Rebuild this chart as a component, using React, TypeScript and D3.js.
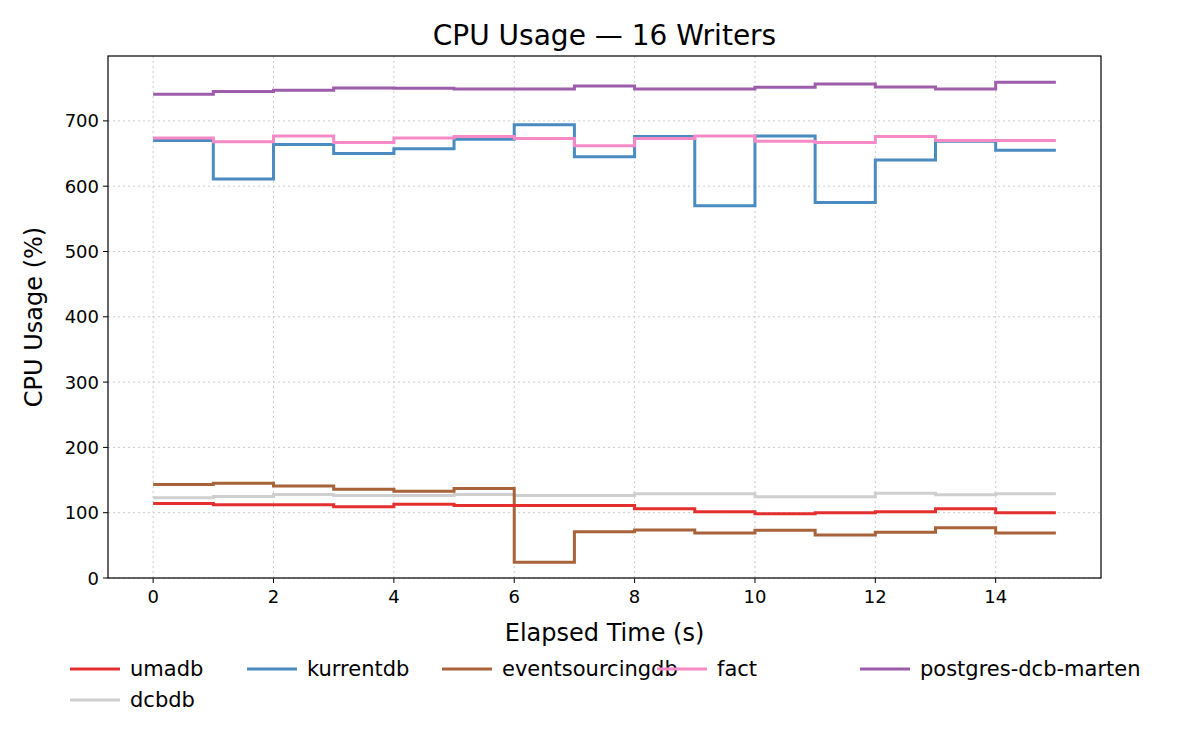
import React from "react";
import * as d3 from "d3";

const times = [0,1,2,3,4,5,6,7,8,9,10,11,12,13,14,15];
const umadb = [114,112,112,109,113,111,111,111,106,101.5,98.5,100,101.5,106,100,100];
const kurrentdb = [670,611,664,650,657.5,672,694,645,676,570,677,575,640,669,655,655];
const eventsourcingdb = [143,145,141,136,133,137,24,71,73.5,69,73,66,70,77,69,69];
const fact = [674,668,677,667,674,676,673,662,673,677,669,667,676,670,670,670];
const postgres = [741,745,747,750.5,750,749,749,753.5,749,749,751.5,756.6,752,749,759,759];
const dcbdb = [123,125,128,126.5,126.5,128,126.5,126.5,129,129,124.5,124.5,129.6,127.5,129,129];
const xTicks = [0,2,4,6,8,10,12,14];
const yTicks = [0,100,200,300,400,500,600,700];

const series = [
  { name: "dcbdb", values: dcbdb, color: "#cfcfcf" },
  { name: "eventsourcingdb", values: eventsourcingdb, color: "#a9633a" },
  { name: "umadb", values: umadb, color: "#e3302f" },
  { name: "kurrentdb", values: kurrentdb, color: "#4a8bc2" },
  { name: "fact", values: fact, color: "#f58ac6" },
  { name: "postgres-dcb-marten", values: postgres, color: "#9d5dab" },
];
const legend = [
  { name: "umadb", color: "#e3302f", x: 70, y: 669 },
  { name: "kurrentdb", color: "#4a8bc2", x: 247, y: 669 },
  { name: "eventsourcingdb", color: "#a9633a", x: 442, y: 669 },
  { name: "fact", color: "#f58ac6", x: 657, y: 669 },
  { name: "postgres-dcb-marten", color: "#9d5dab", x: 860, y: 669 },
  { name: "dcbdb", color: "#cfcfcf", x: 70, y: 700 },
];

export default function App() {
  const L = 108, R = 1101, T = 56, B = 578;
  const x = d3.scaleLinear().domain([-0.75, 15.75]).range([L, R]);
  const y = d3.scaleLinear().domain([0, 800]).range([B, B - 800 * 0.653]);
  const line = d3.line<number>().x((_, i) => x(times[i])).y(d => y(d)).curve(d3.curveStepAfter);
  const font = "DejaVu Sans, sans-serif";
  return (
    <svg width={1200} height={750} style={{ position: "absolute", left: 0, top: 0, background: "#fff" }} fontFamily={font}>
      <rect x={0} y={0} width={1200} height={750} fill="#fff" />
      <text x={(L + R) / 2} y={45} textAnchor="middle" fontSize={28}>CPU Usage — 16 Writers</text>
      {xTicks.map(t => (
        <g key={"x" + t}>
          <line x1={x(t)} x2={x(t)} y1={T} y2={B} stroke="#cccccc" strokeDasharray="2,3" />
          <line x1={x(t)} x2={x(t)} y1={B} y2={B + 5} stroke="#000" />
          <text x={x(t)} y={B + 25} textAnchor="middle" fontSize={18}>{t}</text>
        </g>
      ))}
      {yTicks.map(t => (
        <g key={"y" + t}>
          <line x1={L} x2={R} y1={y(t)} y2={y(t)} stroke="#cccccc" strokeDasharray="2,3" />
          <line x1={L - 5} x2={L} y1={y(t)} y2={y(t)} stroke="#000" />
          <text x={L - 9} y={y(t) + 6.5} textAnchor="end" fontSize={18}>{t}</text>
        </g>
      ))}
      {series.map(s => (
        <path key={s.name} d={line(s.values) || ""} fill="none" stroke={s.color} strokeWidth={3} />
      ))}
      <rect x={L} y={T} width={R - L} height={B - T} fill="none" stroke="#000" strokeWidth={1.2} />
      <text x={(L + R) / 2} y={641} textAnchor="middle" fontSize={24}>Elapsed Time (s)</text>
      <text transform={`translate(42,${(T + B) / 2}) rotate(-90)`} textAnchor="middle" fontSize={24}>CPU Usage (%)</text>
      {legend.map(l => (
        <g key={l.name}>
          <line x1={l.x} x2={l.x + 50} y1={l.y} y2={l.y} stroke={l.color} strokeWidth={3} />
          <text x={l.x + 60} y={l.y + 7} fontSize={21}>{l.name}</text>
        </g>
      ))}
    </svg>
  );
}
